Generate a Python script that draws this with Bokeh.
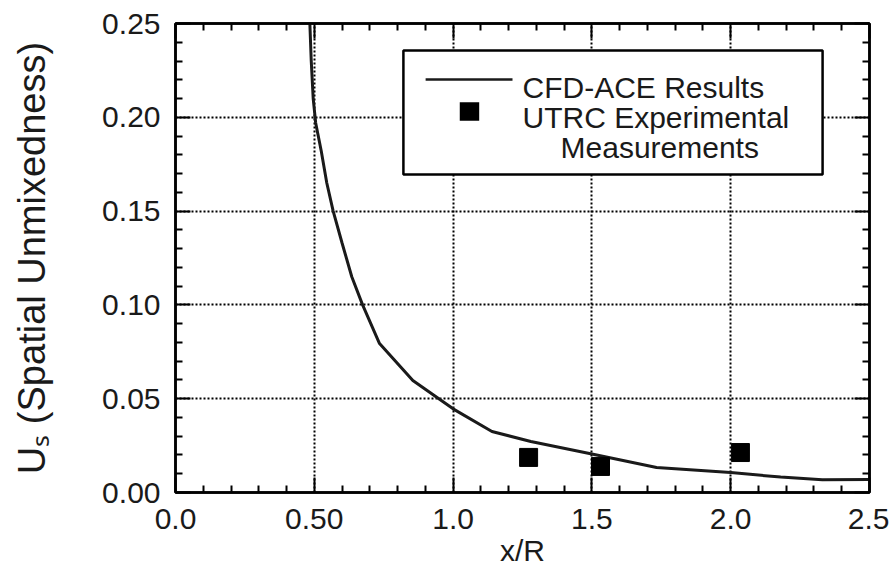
from bokeh.plotting import figure
from bokeh.models import (Range1d, FixedTicker, LinearAxis, NumeralTickFormatter,
                          CustomJSTickFormatter, BoxAnnotation, Label, Arrow)
from bokeh.embed import file_html
from bokeh.resources import INLINE

# CFD-ACE results (x/R, Us)
cfd_x = [0.484, 0.489, 0.496, 0.505, 0.525, 0.545, 0.568, 0.600, 0.635, 0.674, 0.735, 0.855, 1.00, 1.14, 1.28, 1.50, 1.733, 2.00, 2.18, 2.33, 2.50]
cfd_y = [0.250, 0.230, 0.210, 0.197, 0.182, 0.165, 0.150, 0.133, 0.115, 0.100, 0.0794, 0.0597, 0.0446, 0.0325, 0.0272, 0.0205, 0.0133, 0.0106, 0.0082, 0.0068, 0.0069]

# UTRC experimental measurements
exp_x = [1.272, 1.531, 2.035]
exp_y = [0.0187, 0.0139, 0.0213]

x_ticks = [0.0, 0.5, 1.0, 1.5, 2.0, 2.5]
x_tick_labels = ["0.0", "0.50", "1.0", "1.5", "2.0", "2.5"]
x_minor = [0.1, 0.2, 0.3, 0.4, 0.6, 0.7, 0.8, 0.9, 1.1, 1.2, 1.3, 1.4, 1.6, 1.7, 1.8, 1.9, 2.1, 2.2, 2.3, 2.4]
y_ticks = [0.0, 0.05, 0.10, 0.15, 0.20, 0.25]
y_tick_labels = ["0.00", "0.05", "0.10", "0.15", "0.20", "0.25"]
y_minor = [0.01, 0.02, 0.03, 0.04, 0.06, 0.07, 0.08, 0.09, 0.11, 0.12, 0.13, 0.14,
           0.16, 0.17, 0.18, 0.19, 0.21, 0.22, 0.23, 0.24]

legend_labels = ["CFD-ACE Results", "UTRC Experimental", "Measurements"]

FONT = "Liberation Sans"
INK = "#1a1a1a"

p = figure(frame_width=694, height=574,
           x_range=Range1d(0, 2.5), y_range=Range1d(0, 0.25),
           output_backend="svg", toolbar_location=None,
           min_border_left=175, min_border_right=20, min_border_top=23, min_border_bottom=82,
           background_fill_color="white", border_fill_color="white")

p.outline_line_color = "black"
p.outline_line_width = 2.5

bottom_axis = p.below[0]
left_axis = p.left[0]

xt = FixedTicker(ticks=x_ticks, minor_ticks=x_minor)
yt = FixedTicker(ticks=y_ticks, minor_ticks=y_minor)

bottom_axis.ticker = xt
left_axis.ticker = yt
bottom_axis.formatter = NumeralTickFormatter(format="0.0")
left_axis.formatter = NumeralTickFormatter(format="0.00")
bottom_axis.major_label_overrides = dict(zip(x_ticks, x_tick_labels))
left_axis.major_label_overrides = dict(zip(y_ticks, y_tick_labels))

top_axis = LinearAxis(ticker=xt, formatter=CustomJSTickFormatter(code="return ''"))
right_axis = LinearAxis(ticker=yt, formatter=CustomJSTickFormatter(code="return ''"))
p.add_layout(top_axis, "above")
p.add_layout(right_axis, "right")

for ax in [bottom_axis, left_axis, top_axis, right_axis]:
    ax.axis_line_width = 2.5
    ax.axis_line_color = "black"
    ax.major_tick_in = 15
    ax.major_tick_out = 0
    ax.minor_tick_in = 7
    ax.minor_tick_out = 0
    ax.major_tick_line_width = 2
    ax.minor_tick_line_width = 2
    ax.major_tick_line_color = "black"
    ax.minor_tick_line_color = "black"
    ax.major_label_text_font = FONT
    ax.major_label_text_color = INK
    ax.axis_label_text_font = FONT
    ax.axis_label_text_font_style = "normal"
    ax.axis_label_text_color = INK

for ax in [top_axis, right_axis]:
    ax.major_label_standoff = 0
    ax.major_label_text_font_size = "1px"

bottom_axis.major_label_text_font_size = "30px"
left_axis.major_label_text_font_size = "30px"
bottom_axis.major_label_standoff = 16
left_axis.major_label_standoff = 15
bottom_axis.major_label_text_line_height = 0.9
bottom_axis.axis_label_text_line_height = 0.9
bottom_axis.axis_label = "x/R"
left_axis.axis_label = "U\u209b (Spatial Unmixedness)"
bottom_axis.axis_label_text_font_size = "30px"
left_axis.axis_label_text_font_size = "38px"
bottom_axis.axis_label_standoff = 2
left_axis.axis_label_standoff = 46

p.xgrid.ticker = FixedTicker(ticks=[0.5, 1.0, 1.5, 2.0])
p.ygrid.ticker = FixedTicker(ticks=[0.05, 0.10, 0.15, 0.20])
for g in [p.xgrid[0], p.ygrid[0]]:
    g.grid_line_color = "black"
    g.grid_line_width = 2
    g.grid_line_dash = "2 2"

line_r = p.line(cfd_x, cfd_y, line_width=3, color=INK)
sq_r = p.scatter(exp_x, exp_y, marker="square", size=18, color="black")

# legend (drawn as annotations, placed in data units)
p.add_layout(BoxAnnotation(left=0.821, right=2.331, bottom=0.1695, top=0.2356,
                           fill_color="white", fill_alpha=1,
                           line_color="black", line_width=2.5, line_alpha=1))
p.add_layout(Arrow(end=None, x_start=0.901, y_start=0.2201, x_end=1.214, y_end=0.2201,
                   line_color=INK, line_width=2.5))
p.add_layout(BoxAnnotation(left=1.059 - 0.035, right=1.059 + 0.035,
                           bottom=0.2031 - 0.0049, top=0.2031 + 0.0049,
                           fill_color="black", fill_alpha=1, line_alpha=0))
for txt, lx, ly in zip(legend_labels, [1.250, 1.250, 1.387], [0.2160, 0.1999, 0.1839]):
    p.add_layout(Label(x=lx, y=ly, text=txt, text_font=FONT, text_font_size="30px",
                       text_color=INK, text_baseline="alphabetic", text_align="left"))

open("out.html", "w").write(file_html(p, INLINE))
